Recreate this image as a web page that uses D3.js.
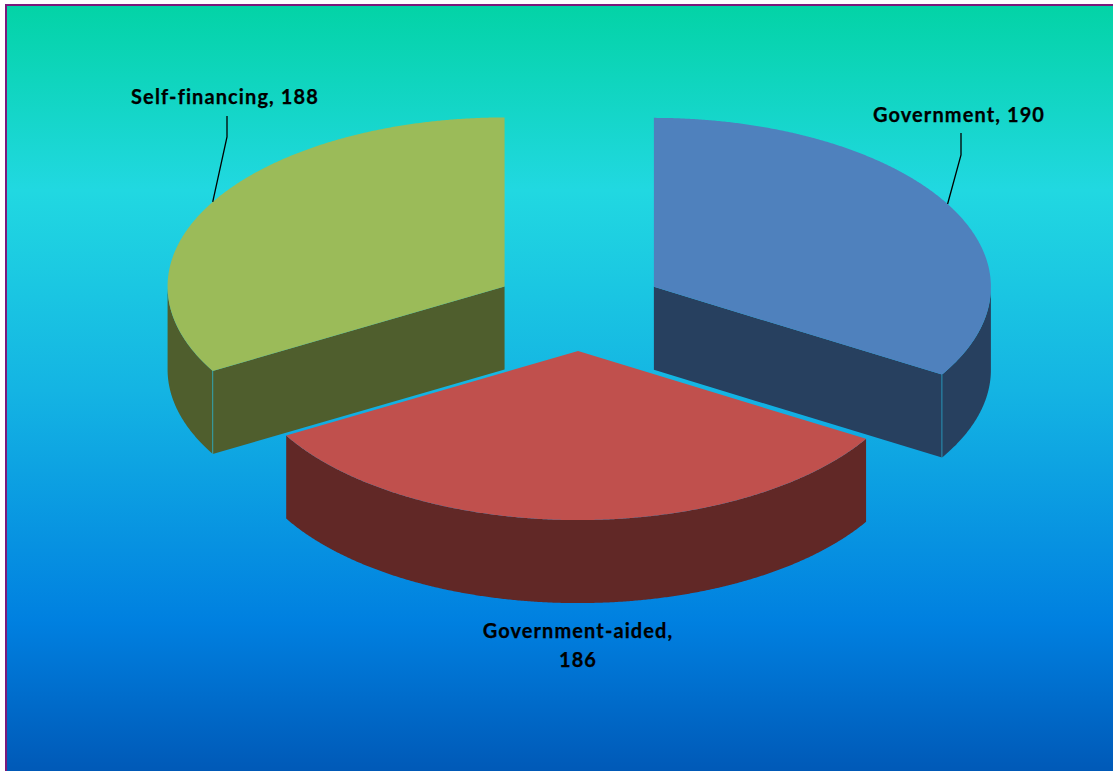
<!DOCTYPE html>
<html>
<head>
<meta charset="utf-8">
<script src="https://cdn.jsdelivr.net/npm/d3@7"></script>
<style>
  html, body { margin: 0; padding: 0; background: #fff; overflow: hidden; }
  text { font-family: Lato, "Open Sans", sans-serif; font-weight: 700; fill: #000; }
</style>
</head>
<body>
<svg id="chart" width="1113" height="771"></svg>
<script>
// Institutions by type of management
const categories = ["Government", "Government-aided", "Self-financing"];
const values = [190, 186, 188];
const topColors = ["#4F81BD", "#C0504D", "#9BBB59"];
const sideColors = ["#27405F", "#612826", "#4F5E2D"];

const W = 1113, H = 771;
const svg = d3.select("#chart");

// ---- background panel with vertical gradient ----
const defs = svg.append("defs");
const grad = defs.append("linearGradient")
  .attr("id", "bgGrad").attr("x1", 0).attr("y1", 0).attr("x2", 0).attr("y2", 1);
[[0, "#03D3A6"], [0.24, "#21D8E1"], [0.5, "#14B4E3"], [0.8, "#0080E0"], [1, "#0058B6"]]
  .forEach(([o, c]) => grad.append("stop").attr("offset", o).attr("stop-color", c));

svg.append("rect")
  .attr("x", 6).attr("y", 5).attr("width", W).attr("height", H)
  .attr("fill", "url(#bgGrad)")
  .attr("stroke", "#7B1A7B").attr("stroke-width", 2);

// ---- 3D pie geometry ----
const cx = 579, cy = 308;       // pie centre before explosion
const rx = 337, ry = 169;       // projected ellipse radii
const depth = 83;               // wall height
const explode = 0.255;          // explosion, as fraction of radius

// unit-circle coordinates -> screen
const xs = d3.scaleLinear().domain([-1, 1]).range([cx - rx, cx + rx]);
const ys = d3.scaleLinear().domain([-1, 1]).range([cy + ry, cy - ry]);

const pie = d3.pie().sort(null).value(d => d)
  .startAngle(0).endAngle(2 * Math.PI);
const slices = pie(values).map((s, i) => {
  const mid = (s.startAngle + s.endAngle) / 2;
  return Object.assign(s, {
    i, mid,
    ox: explode * Math.sin(mid),
    oy: explode * Math.cos(mid)
  });
});

function pt(s, a, z, r = 1) {
  return [xs(s.ox + r * Math.sin(a)), ys(s.oy + r * Math.cos(a)) + z];
}
function arcPts(s, a0, a1, z) {
  const n = Math.max(2, Math.ceil((a1 - a0) / 0.005));
  return d3.range(n + 1).map(k => pt(s, a0 + (a1 - a0) * k / n, z));
}
const line = d3.line();
const closed = pts => line(pts) + "Z";

// draw back slices first
const order = slices.slice().sort((a, b) => ys(a.oy) - ys(b.oy));

const g = svg.append("g");
order.forEach(s => {
  const gs = g.append("g");
  const side = sideColors[s.i], top = topColors[s.i];
  const c0 = pt(s, 0, 0, 0), c1 = pt(s, 0, depth, 0);

  // radial cut faces facing the viewer
  if (Math.sin(s.startAngle) < -1e-6) {
    const p0 = pt(s, s.startAngle, 0), p1 = pt(s, s.startAngle, depth);
    gs.append("path").attr("d", closed([c0, p0, p1, c1])).attr("fill", side);
  }
  if (Math.sin(s.endAngle) > 1e-6) {
    const p0 = pt(s, s.endAngle, 0), p1 = pt(s, s.endAngle, depth);
    gs.append("path").attr("d", closed([c0, p0, p1, c1])).attr("fill", side);
  }

  // outer wall on the front half
  const a0 = Math.max(s.startAngle, Math.PI / 2);
  const a1 = Math.min(s.endAngle, 3 * Math.PI / 2);
  if (a1 > a0) {
    const topArc = arcPts(s, a0, a1, 0);
    const botArc = arcPts(s, a0, a1, depth).reverse();
    gs.append("path").attr("d", closed(topArc.concat(botArc))).attr("fill", side);
  }

  // thin highlight on the exposed vertical corner
  [s.startAngle, s.endAngle].forEach((a, k) => {
    const visible = k === 0 ? Math.sin(a) < -1e-6 : Math.sin(a) > 1e-6;
    if (visible && Math.cos(a) < 0) {
      const p0 = pt(s, a, 0), p1 = pt(s, a, depth);
      gs.append("line")
        .attr("x1", p0[0]).attr("y1", p0[1]).attr("x2", p1[0]).attr("y2", p1[1])
        .attr("stroke", "#2BC4EA").attr("stroke-width", 1).attr("stroke-opacity", 0.6);
    }
  });

  // top face
  gs.append("path")
    .attr("d", closed([c0].concat(arcPts(s, s.startAngle, s.endAngle, 0))))
    .attr("fill", top);
});

// ---- data labels ----
const labelLayout = [
  { x: 959, y: 122, lines: 1, leader: [133, 155] },
  { x: 578, y: 638, lines: 2, leader: null },
  { x: 225, y: 104, lines: 1, leader: [116, 137] }
];
const lg = svg.append("g");
slices.forEach(s => {
  const L = labelLayout[s.i];
  const txt = `${categories[s.i]}, ${values[s.i]}`;
  const t = lg.append("text")
    .attr("text-anchor", "middle")
    .attr("font-size", 20)
    .attr("letter-spacing", 1.1)
    .attr("stroke", "#000").attr("stroke-width", 0.25);
  if (L.lines === 2) {
    t.append("tspan").attr("x", L.x).attr("y", L.y).text(`${categories[s.i]},`);
    t.append("tspan").attr("x", L.x).attr("y", L.y + 29).text(values[s.i]);
  } else {
    t.attr("x", L.x).attr("y", L.y).text(txt);
  }
  if (L.leader) {
    const lx = L.x + 2;
    const rim = pt(s, s.mid, 0);
    lg.append("path")
      .attr("d", line([[lx, L.leader[0]], [lx, L.leader[1]], rim]))
      .attr("fill", "none").attr("stroke", "#000").attr("stroke-width", 1.3);
  }
});
</script>
</body>
</html>
